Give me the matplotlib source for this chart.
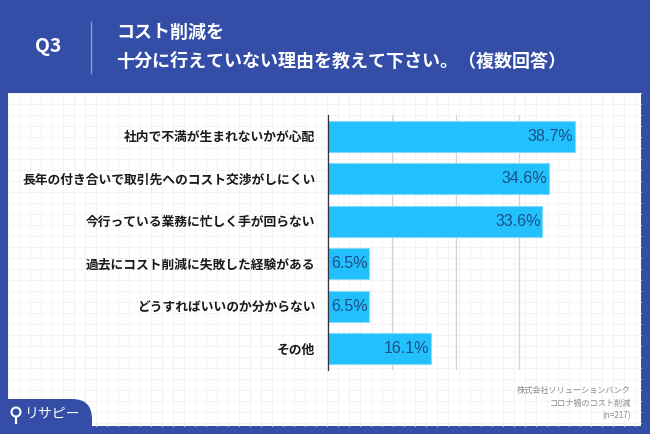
import numpy as np
import matplotlib.pyplot as plt
from matplotlib.patches import FancyBboxPatch, Rectangle, Circle

plt.rcParams['font.family'] = ['Noto Sans CJK JP', 'DejaVu Sans']

# データ
labels = ['社内で不満が生まれないかが心配',
          '長年の付き合いで取引先へのコスト交渉がしにくい',
          '今行っている業務に忙しく手が回らない',
          '過去にコスト削減に失敗した経験がある',
          'どうすればいいのか分からない',
          'その他']
values = [38.7, 34.6, 33.6, 6.5, 6.5, 16.1]
title_lines = ['コスト削減を', '十分に行えていない理由を教えて下さい。（複数回答）']
footer = ['株式会社ソリューションバンク', 'コロナ禍のコスト削減', '(n=217)']

W, H = 650, 434
NAVY = '#344ea8'
BAR = '#22c0fd'
VAL = '#1c4f86'

fig = plt.figure(figsize=(W / 100, H / 100), dpi=100)
fig.patch.set_facecolor(NAVY)

# 背景レイヤー（ピクセル座標）
bg = fig.add_axes([0, 0, 1, 1])
bg.set_xlim(0, W)
bg.set_ylim(H, 0)
bg.axis('off')
bg.add_patch(Rectangle((8, 93), 633, 333, facecolor='white', edgecolor='none'))
for gx in np.arange(8, 641, 11):
    bg.plot([gx, gx], [93, 426], color='#f1f1f1', lw=0.6, zorder=1)
for gy in np.arange(93, 426, 11):
    bg.plot([8, 641], [gy, gy], color='#f1f1f1', lw=0.6, zorder=1)
bg.add_patch(FancyBboxPatch((-20, 399), 112, 60, boxstyle='round,pad=0,rounding_size=20',
                            facecolor=NAVY, edgecolor='none', zorder=2))
bg.add_patch(Circle((16, 412), 4.5, facecolor='none', edgecolor='white', lw=1.5, zorder=3))
bg.plot([16, 16], [416.5, 423], color='white', lw=1.5, zorder=3)
bg.text(25, 413, 'リサピー', color='white', fontsize=10, va='center', zorder=3)

bg.text(48, 47, 'Q3', color='white', fontsize=14, fontweight='bold', ha='center', va='center')
bg.plot([91, 91], [22, 73], color='#8a9bd0', lw=1)
bg.text(116, 32, title_lines[0], color='white', fontsize=13, fontweight='bold', va='center')
bg.text(116, 61, title_lines[1], color='white', fontsize=13, fontweight='bold', va='center')

for i, t in enumerate(footer):
    bg.text(631, 391 + i * 12.5, t, color='#8c8c8c', fontsize=5.9, ha='right', va='center')

# 棒グラフ
ax = fig.add_axes([328 / W, 1 - 370 / H, (583 - 328) / W, (370 - 115) / H])
ax.patch.set_alpha(0)
y = np.arange(len(labels))
ax.barh(y, values, height=0.72, color=BAR, edgecolor='#7fdcff', lw=0.8, zorder=3)
ax.set_xlim(0, 40)
ax.set_ylim(len(labels) - 0.5, -0.5)
ax.set_xticks([10, 20, 30, 40])
ax.grid(axis='x', color='#d4d4d4', lw=0.9, zorder=0)
ax.tick_params(length=0, labelbottom=False)
ax.set_yticks(y)
ax.set_yticklabels(labels, fontsize=9.2, fontweight='bold', color='#1a1a1a')
ax.tick_params(axis='y', pad=9)
for s in ['top', 'right', 'bottom']:
    ax.spines[s].set_visible(False)
ax.spines['left'].set_color('#333333')
ax.spines['left'].set_linewidth(0.9)
ax.spines['left'].set_zorder(4)

for yi, v in zip(y, values):
    ax.text(v - 0.2, yi, f'{v}%', color=VAL, fontsize=11.5, family=['Liberation Sans', 'DejaVu Sans'],
            ha='right', va='center', zorder=5)

fig.savefig('out.png', dpi=100, facecolor=NAVY)
